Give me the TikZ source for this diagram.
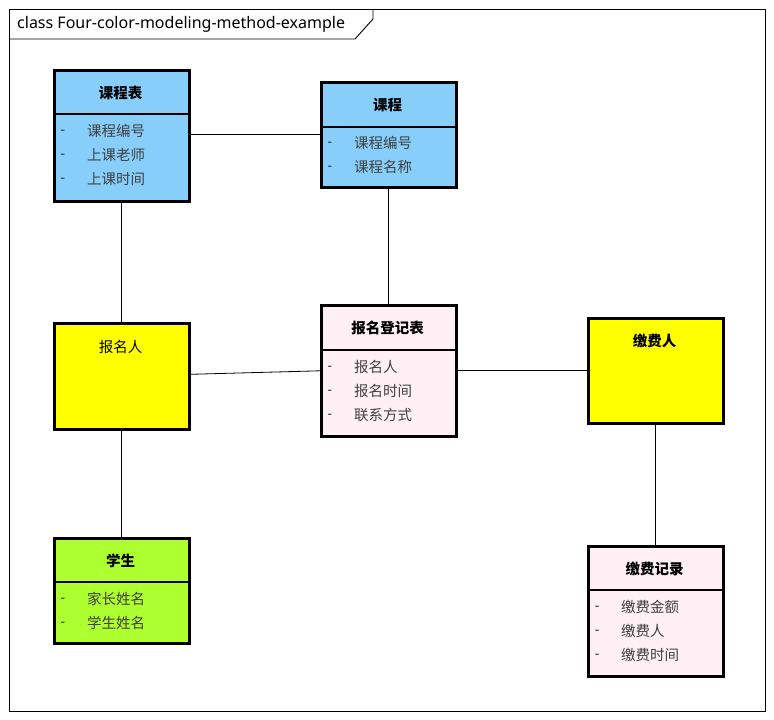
\documentclass[tikz,border=0pt]{standalone}
\usepackage{fontspec}
\setmainfont{Noto Sans}
\newfontfamily\cjk{Noto Sans CJK SC}
\begin{document}
\begin{tikzpicture}[x=1pt,y=-1pt,
  cls/.style={draw=black, line width=2.6pt, anchor=north west, inner sep=0pt},
  divider/.style={line width=2.6pt},
  hdr/.style={font=\cjk\bfseries\fontsize{14.5}{16}\selectfont, text=black, inner sep=0pt},
  attr/.style={font=\cjk\fontsize{14.5}{16}\selectfont, text=black!75, inner sep=0pt, anchor=west},
  dashmark/.style={font=\fontsize{14}{16}\selectfont, text=black!80, inner sep=0pt, anchor=base, yshift=-3.8pt},
  link/.style={draw=black, line width=0.8pt},
  frame/.style={draw=black, line width=0.9pt}]
\definecolor{entityblue}{HTML}{87CEFA}
\definecolor{roleyellow}{HTML}{FFFF00}
\definecolor{momentpink}{HTML}{FFF0F5}
\definecolor{thinggreen}{HTML}{ADFF2F}

\useasboundingbox (0,0) rectangle (774,720);
\fill[white] (0,0) rectangle (774,720);

% diagram frame with title tab
\draw[frame] (9,9) rectangle (765,711);
\draw[frame] (9,39) -- (355,39) -- (373,19) -- (373,9);
\node[font=\fontsize{16}{18}\selectfont, anchor=west, inner sep=0pt] (title) at (17,24) {class Four-color-modeling-method-example};

% 课程表
\node[cls, fill=entityblue, minimum width=135pt, minimum height=131pt] (kcb) at (53,69) {};
\draw[divider] (53,114) -- (188,114);
\node[hdr] (kcbh) at (120.5,93) {课程表};
\node[dashmark] (kcbd1) at (63,131) {-};
\node[dashmark] (kcbd2) at (63,155) {-};
\node[dashmark] (kcbd3) at (63,179) {-};
\node[attr] (kcba1) at (87,131) {课程编号};
\node[attr] (kcba2) at (87,155) {上课老师};
\node[attr] (kcba3) at (87,179) {上课时间};

% 课程
\node[cls, fill=entityblue, minimum width=135pt, minimum height=105pt] (kc) at (320,81) {};
\draw[divider] (320,127) -- (455,127);
\node[hdr] (kch) at (387.5,105) {课程};
\node[dashmark] (kcd1) at (330,143) {-};
\node[dashmark] (kcd2) at (330,167) {-};
\node[attr] (kca1) at (354,143) {课程编号};
\node[attr] (kca2) at (354,167) {课程名称};

% 报名人
\node[cls, fill=roleyellow, minimum width=135pt, minimum height=106pt] (bmr) at (53,322) {};
\node[hdr, font=\cjk\fontsize{14.5}{16}\selectfont] (bmrh) at (120.5,347) {报名人};

% 报名登记表
\node[cls, fill=momentpink, minimum width=135pt, minimum height=131pt] (bmdj) at (320,304) {};
\draw[divider] (320,350) -- (455,350);
\node[hdr] (bmdjh) at (387.5,328) {报名登记表};
\node[dashmark] (bmdjd1) at (330,367) {-};
\node[dashmark] (bmdjd2) at (330,391) {-};
\node[dashmark] (bmdjd3) at (330,415) {-};
\node[attr] (bmdja1) at (354,367) {报名人};
\node[attr] (bmdja2) at (354,391) {报名时间};
\node[attr] (bmdja3) at (354,415) {联系方式};

% 缴费人
\node[cls, fill=roleyellow, minimum width=135pt, minimum height=105pt] (jfr) at (587,317) {};
\node[hdr] (jfrh) at (654.5,341) {缴费人};

% 学生
\node[cls, fill=thinggreen, minimum width=135pt, minimum height=105pt] (xs) at (53,537) {};
\draw[divider] (53,582) -- (188,582);
\node[hdr] (xsh) at (120.5,561) {学生};
\node[dashmark] (xsd1) at (63,599) {-};
\node[dashmark] (xsd2) at (63,623) {-};
\node[attr] (xsa1) at (87,599) {家长姓名};
\node[attr] (xsa2) at (87,623) {学生姓名};

% 缴费记录
\node[cls, fill=momentpink, minimum width=135pt, minimum height=130pt] (jfjl) at (587,545) {};
\draw[divider] (587,590) -- (722,590);
\node[hdr] (jfjlh) at (654.5,569) {缴费记录};
\node[dashmark] (jfjld1) at (597,607) {-};
\node[dashmark] (jfjld2) at (597,631) {-};
\node[dashmark] (jfjld3) at (597,655) {-};
\node[attr] (jfjla1) at (621,607) {缴费金额};
\node[attr] (jfjla2) at (621,631) {缴费人};
\node[attr] (jfjla3) at (621,655) {缴费时间};

% associations
\draw[link] (kc.west -| kcb.east) -- (kc.west);
\draw[link] (kcb.south) -- (bmr.north);
\draw[link] (kc.south) -- (bmdj.north);
\draw[link] ([yshift=2pt]bmr.east) -- (bmdj.west);
\draw[link] (bmdj.east) -- (jfr.west);
\draw[link] (bmr.south) -- (xs.north);
\draw[link] (jfr.south) -- (jfjl.north);
\end{tikzpicture}
\end{document}
